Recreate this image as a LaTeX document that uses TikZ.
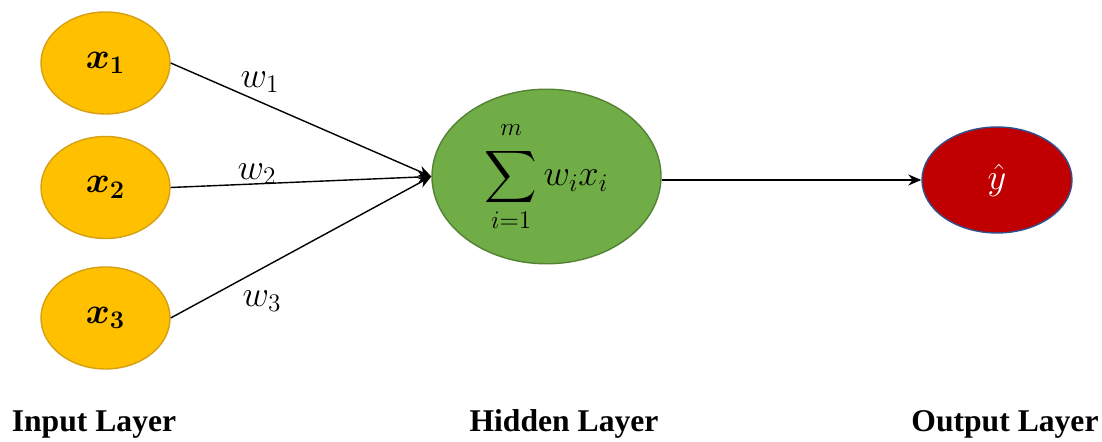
\documentclass[tikz,border=0pt]{standalone}
\usepackage{amsmath}
\usepackage{bm}
\usepackage{fontspec}
\setmainfont{Liberation Serif}
\usepackage{tikz}
\usetikzlibrary{arrows.meta, positioning, shapes.geometric}
\definecolor{inyellow}{RGB}{255,192,0}
\definecolor{inborder}{RGB}{214,160,20}
\definecolor{hidgreen}{RGB}{112,173,71}
\definecolor{hidborder}{RGB}{84,130,53}
\definecolor{outred}{RGB}{192,0,0}
\definecolor{outborder}{RGB}{47,82,143}

\begin{document}
\begin{tikzpicture}[
      inp/.style={ellipse, draw=inborder, line width=0.8pt, fill=inyellow,
                  minimum width=2.58cm, minimum height=2.04cm,
                  font=\fontsize{20}{24}\selectfont},
      hid/.style={ellipse, draw=hidborder, line width=0.8pt, fill=hidgreen,
                  minimum width=4.58cm, minimum height=3.22cm,
                  font=\fontsize{22}{26}\selectfont},
      outp/.style={ellipse, draw=outborder, line width=0.8pt, fill=outred,
                   minimum width=3.0cm, minimum height=2.12cm,
                   font=\fontsize{22}{26}\selectfont, text=white},
      wlab/.style={font=\fontsize{20}{24}\selectfont},
      layer/.style={font=\fontsize{18}{22}\selectfont\bfseries, anchor=base},
      >={Stealth[length=2.6mm, width=2.2mm]}]
    \useasboundingbox (0,0) rectangle (22.04,8.84);
    % Input layer
    \foreach \i/\y in {1/7.58, 2/5.09, 3/2.48} {
      \node[inp] (x\i) at (2.11,\y) {$\bm{x_{\i}}$};
    }
    % Hidden and output neurons
    \node[hid] (sum) at (10.93,5.31)
      {$\displaystyle\sum_{i=1}^{\raisebox{3pt}{$\scriptstyle m$}} w_i x_i$};
    \node[outp] (yhat) at (19.94,5.24) {$\hat{y}$};
    % Weighted connections
    \foreach \i in {1,2,3} {
      \draw[->, line width=0.8pt] (x\i.east) -- (sum.west);
    }
    \node[wlab] (w1) at (5.20,7.20) {$w_1$};
    \node[wlab] (w2) at (5.14,5.36) {$w_2$};
    \node[wlab] (w3) at (5.24,2.82) {$w_3$};
    \draw[->, line width=0.8pt] (sum.east |- yhat.west) -- (yhat.west);
    % Layer names
    \node[layer] (inlab) at (1.88,0.20) {Input Layer};
    \node[layer] (hidlab) at (11.28,0.20) {Hidden Layer};
    \node[layer] (outlab) at (20.10,0.20) {Output Layer};
  \end{tikzpicture}
\end{document}
